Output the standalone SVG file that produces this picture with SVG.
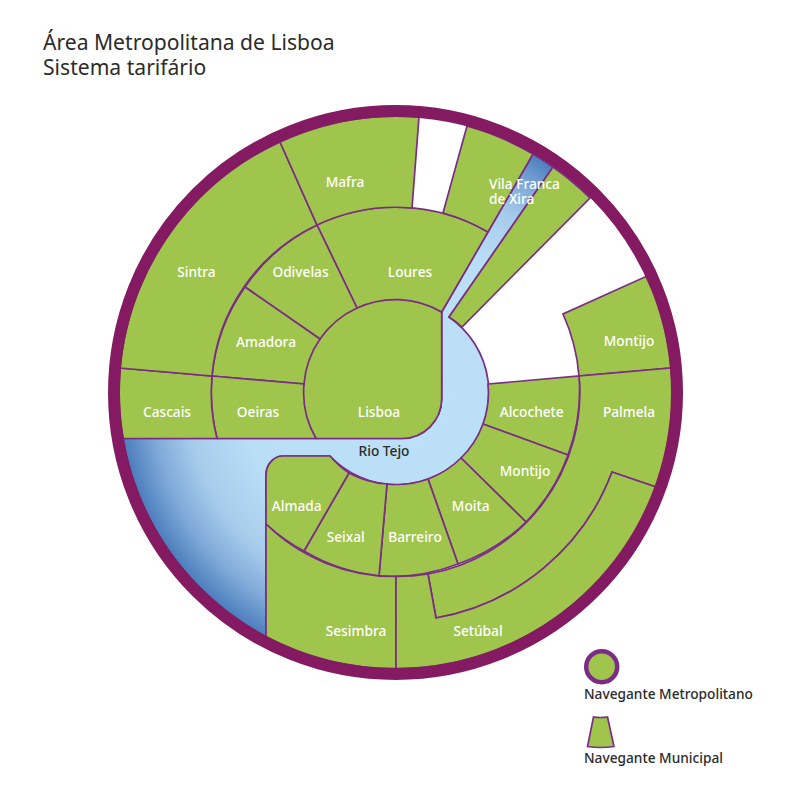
<svg xmlns="http://www.w3.org/2000/svg" width="800" height="800" viewBox="0 0 800 800">
<style>
.z{fill:#9fc54d;stroke:#7c2c86;stroke-width:1.7;stroke-linejoin:miter}
.r{fill:url(#river);stroke:#7c2c86;stroke-width:1.7}
text{font-family:"Noto Sans","Open Sans",sans-serif}
.l{fill:#fff;font-size:13.700px;font-weight:500;text-anchor:middle}
.d{fill:#2b2b2b;font-size:13.700px;font-weight:500}
.t{fill:#2b2b2b;font-size:21.100px}
</style>
<defs>
<radialGradient id="river" gradientUnits="userSpaceOnUse" cx="395.5" cy="392.5" r="277">
<stop offset="0" stop-color="#bbe0f8"/>
<stop offset="0.55" stop-color="#b9def6"/>
<stop offset="0.75" stop-color="#a8cdec"/>
<stop offset="0.88" stop-color="#80aad9"/>
<stop offset="1" stop-color="#4a7dbc"/>
</radialGradient>
</defs>
<g id="title">
<text class="t" x="43" y="49.500">Área Metropolitana de Lisboa</text>
<text class="t" x="43" y="75">Sistema tarifário</text>
</g>
<g id="connectors"/>
<g id="rio-tejo">
<path class="r" d="M123 438.5H401.7A40 40 0 0 0 441.7 398.5V312L533 154A276 276 0 0 1 553 167L449 317A92 92 0 1 1 330 456H283A17 19 0 0 0 266 475V636.7A276 276 0 0 1 123 438.5Z"/>
<text class="d" x="384" y="455.500" text-anchor="middle">Rio Tejo</text>
</g>
<g id="lisboa"><path class="z" d="M441.7 312A92 92 0 0 0 316 438.5H401.7A40 40 0 0 0 441.7 398.5Z"/><text class="l" x="379" y="417">Lisboa</text></g>
<g id="loures"><path class="z" d="M317 225A184 184 0 0 1 488 232L441.7 312A92 92 0 0 0 357 308Z"/><text class="l" x="410" y="277">Loures</text></g>
<g id="odivelas"><path class="z" d="M317 225L357 308A92 92 0 0 0 320 339L245 287A184 184 0 0 1 317 225Z"/><text class="l" x="300.500" y="277">Odivelas</text></g>
<g id="amadora"><path class="z" d="M245 287L320 339A92 92 0 0 0 304 384L212 376A184 184 0 0 1 245 287Z"/><text class="l" x="266" y="346.500">Amadora</text></g>
<g id="oeiras"><path class="z" d="M212 376L304 384A92 92 0 0 0 316 438.5H217A184 184 0 0 1 212 376Z"/><text class="l" x="258" y="417">Oeiras</text></g>
<g id="cascais"><path class="z" d="M120 368L212 376A184 184 0 0 0 217 438.5H123A276 276 0 0 1 120 368Z"/><text class="l" x="167" y="417">Cascais</text></g>
<g id="sintra"><path class="z" d="M120 368A276 276 0 0 1 280 142L317 225A184 184 0 0 0 212 376Z"/><text class="l" x="196.500" y="277">Sintra</text></g>
<g id="mafra"><path class="z" d="M280 142A276 276 0 0 1 419 117L412 208A184 184 0 0 0 317 225Z"/><text class="l" x="345" y="187">Mafra</text></g>
<g id="vila-franca-de-xira">
<path class="z" d="M467 126A276 276 0 0 1 533 154L488 232A184 184 0 0 0 443 213Z"/>
<path class="z" d="M553 167A276 276 0 0 1 590 198L462 327A92 92 0 0 0 449 317Z"/>
<text class="l" style="text-anchor:start" x="489" y="188.500">Vila Franca</text>
<text class="l" style="text-anchor:start" x="489" y="203.500">de Xira</text>
</g>
<g id="montijo-norte"><path class="z" d="M647 276A276 276 0 0 1 671 368L579 376A184 184 0 0 0 563 314Z"/><text class="l" x="629" y="346">Montijo</text></g>
<g id="palmela"><path class="z" d="M671 368A276 276 0 0 1 656 487L612 472A230.500 230.500 0 0 1 436 618L428 574A184 184 0 0 0 579 376Z"/><text class="l" x="629" y="417">Palmela</text></g>
<g id="alcochete"><path class="z" d="M488 384L579 376A184 184 0 0 1 568 455L483 424A92 92 0 0 0 488 384Z"/><text class="l" x="531.700" y="417">Alcochete</text></g>
<g id="montijo-sul"><path class="z" d="M483 424L568 455A184 184 0 0 1 526 522L461 458A92 92 0 0 0 483 424Z"/><text class="l" x="525" y="475.500">Montijo</text></g>
<g id="moita"><path class="z" d="M461 458L526 522A184 184 0 0 1 458 564L428 479A92 92 0 0 0 461 458Z"/><text class="l" x="470.700" y="511">Moita</text></g>
<g id="barreiro"><path class="z" d="M428 479L458 564A184 184 0 0 1 379 576L387 484A92 92 0 0 0 428 479Z"/><text class="l" x="415" y="542">Barreiro</text></g>
<g id="seixal"><path class="z" d="M387 484L379 576A184 184 0 0 1 304 551L349 473A92 92 0 0 0 387 484Z"/><text class="l" x="345.700" y="542">Seixal</text></g>
<g id="almada"><path class="z" d="M283 456H330A92 92 0 0 0 349 473L304 551A184 184 0 0 1 266 524V475A17 19 0 0 1 283 456Z"/><text class="l" x="296.700" y="511">Almada</text></g>
<g id="sesimbra"><path class="z" d="M266 524A184 184 0 0 0 396 576.500V668.500A276 276 0 0 1 266 636.700Z"/><text class="l" x="356" y="635.700">Sesimbra</text></g>
<g id="setubal"><path class="z" d="M396 576.500A184 184 0 0 0 428 574L436 618A230.500 230.500 0 0 0 612 472L656 487A276 276 0 0 1 396 668.500Z"/><text class="l" x="478" y="635.700">Setúbal</text></g>
<g id="anel"><circle cx="395.500" cy="392.500" r="281.500" fill="none" stroke="#841b62" stroke-width="12"/></g>
<g id="legenda-metropolitano">
<circle cx="601.700" cy="666.700" r="15.500" fill="#9fc54d" stroke="#7c2c86" stroke-width="4.500"/>
<text class="d" x="584" y="699">Navegante Metropolitano</text>
</g>
<g id="legenda-municipal">
<path class="z" d="M593.500 717Q600.500 718 607.500 717L614 746.500Q600.500 748.500 587.500 746.500Z"/>
<text class="d" x="584" y="763">Navegante Municipal</text>
</g>
</svg>
